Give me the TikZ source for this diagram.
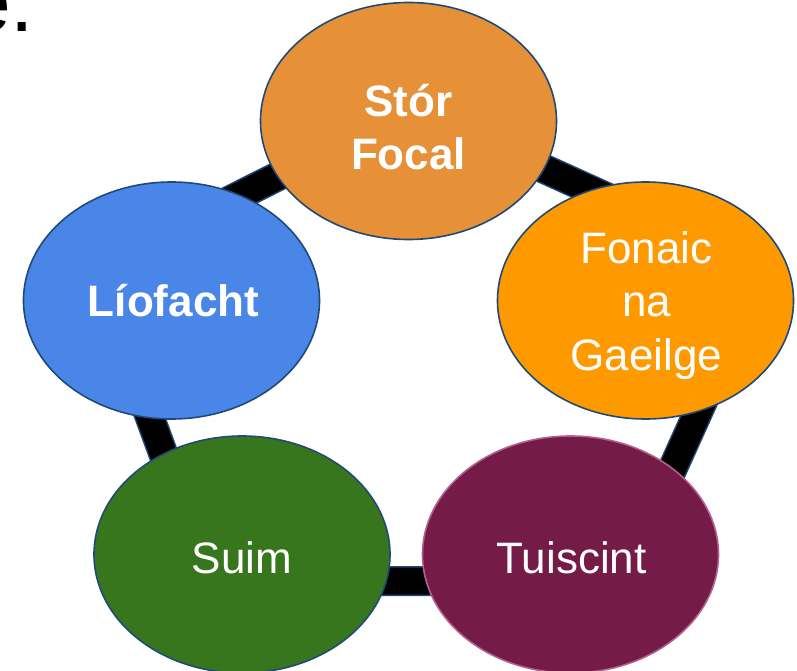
\documentclass[tikz,border=0pt]{standalone}
\usepackage{fontspec}
\setmainfont{Liberation Sans}
\usetikzlibrary{shapes.geometric}
\definecolor{cStor}{HTML}{E69138}
\definecolor{cFon}{HTML}{FF9900}
\definecolor{cLio}{HTML}{4A86E8}
\definecolor{cSuim}{HTML}{38761D}
\definecolor{cTui}{HTML}{741B47}
\definecolor{cEdge}{HTML}{1F4A78}
\definecolor{cTuiEdge}{HTML}{B0628F}
\begin{document}
\begin{tikzpicture}[x=1pt,y=-1pt,
  bubble/.style={ellipse, draw=cEdge, line width=1.6pt, minimum width=296pt, minimum height=237pt, inner sep=0pt},
  lbl/.style={text=white, align=center, inner sep=0pt, font=\fontsize{44}{53.3}\selectfont},
  lblbold/.style={lbl, font=\fontsize{44}{53.3}\selectfont\bfseries},
  ringouter/.style={draw=cEdge, line width=30pt, rounded corners=50pt, line join=round},
  ringinner/.style={draw=black, line width=27pt, rounded corners=50pt, line join=round},
  headtext/.style={anchor=base west, inner sep=0pt, text=black, font=\fontsize{84}{100}\selectfont}]
\useasboundingbox (0,0) rectangle (797,671);
\clip (0,0) rectangle (797,671);
% partial heading
\node[headtext] (head) at (-36,32) {e.};
% ring
\coordinate (r1) at (412,109);
\coordinate (r2) at (763,268);
\coordinate (r3) at (622,581);
\coordinate (r4) at (210,581);
\coordinate (r5) at (95,268);
\path[ringouter] (r1) -- (r2) -- (r3) -- (r4) -- (r5) -- cycle;
\path[ringinner] (r1) -- (r2) -- (r3) -- (r4) -- (r5) -- cycle;
% ellipses
\node[bubble, fill=cStor] (stor) at (408.5,121) {};
\node[bubble, fill=cFon] (fon) at (645.5,300.5) {};
\node[bubble, fill=cLio] (lio) at (171.5,300.5) {};
\node[bubble, fill=cSuim] (suim) at (242,554.5) {};
\node[bubble, fill=cTui, draw=cTuiEdge] (tui) at (570.5,554.5) {};
% labels
\node[lblbold] (storT) at (408.5,127.4) {Stór\\Focal};
\node[lbl] (fonT) at (646.5,305.5) {Fonaic\\na\\Gaeilge};
\node[lblbold] (lioT) at (173.5,300.7) {Líofacht};
\node[lbl] (suimT) at (242,558) {Suim};
\node[lbl] (tuiT) at (571.5,557.5) {Tuiscint};
\end{tikzpicture}
\end{document}
